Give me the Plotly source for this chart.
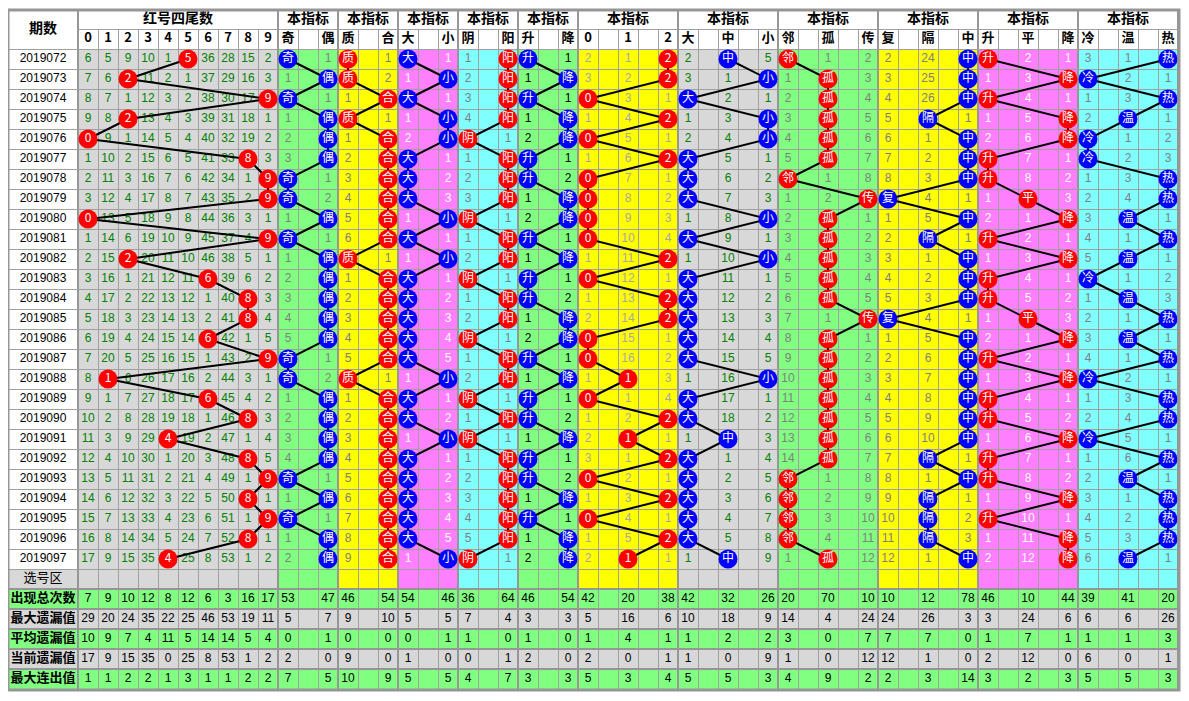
import plotly.graph_objects as go

# ---------------- data ----------------
periods = ['2019072', '2019073', '2019074', '2019075', '2019076', '2019077', '2019078',
           '2019079', '2019080', '2019081', '2019082', '2019083', '2019084', '2019085',
           '2019086', '2019087', '2019088', '2019089', '2019090', '2019091', '2019092',
           '2019093', '2019094', '2019095', '2019096', '2019097']

tail_digits = ['0', '1', '2', '3', '4', '5', '6', '7', '8', '9']
tail_hit = [5, 2, 9, 2, 0, 8, 9, 9, 0, 9, 2, 6, 8, 8, 6, 9, 1, 6, 8, 4, 8, 9, 8, 9, 8, 4]

# omission value per tail column (the hit column holds 0)
tail_miss = [
    [6, 5, 9, 10, 1, 0, 36, 28, 15, 2],
    [7, 6, 0, 11, 2, 1, 37, 29, 16, 3],
    [8, 7, 1, 12, 3, 2, 38, 30, 17, 0],
    [9, 8, 0, 13, 4, 3, 39, 31, 18, 1],
    [0, 9, 1, 14, 5, 4, 40, 32, 19, 2],
    [1, 10, 2, 15, 6, 5, 41, 33, 0, 3],
    [2, 11, 3, 16, 7, 6, 42, 34, 1, 0],
    [3, 12, 4, 17, 8, 7, 43, 35, 2, 0],
    [0, 13, 5, 18, 9, 8, 44, 36, 3, 1],
    [1, 14, 6, 19, 10, 9, 45, 37, 4, 0],
    [2, 15, 0, 20, 11, 10, 46, 38, 5, 1],
    [3, 16, 1, 21, 12, 11, 0, 39, 6, 2],
    [4, 17, 2, 22, 13, 12, 1, 40, 0, 3],
    [5, 18, 3, 23, 14, 13, 2, 41, 0, 4],
    [6, 19, 4, 24, 15, 14, 0, 42, 1, 5],
    [7, 20, 5, 25, 16, 15, 1, 43, 2, 0],
    [8, 0, 6, 26, 17, 16, 2, 44, 3, 1],
    [9, 1, 7, 27, 18, 17, 0, 45, 4, 2],
    [10, 2, 8, 28, 19, 18, 1, 46, 0, 3],
    [11, 3, 9, 29, 0, 19, 2, 47, 1, 4],
    [12, 4, 10, 30, 1, 20, 3, 48, 0, 5],
    [13, 5, 11, 31, 2, 21, 4, 49, 1, 0],
    [14, 6, 12, 32, 3, 22, 5, 50, 0, 1],
    [15, 7, 13, 33, 4, 23, 6, 51, 1, 0],
    [16, 8, 14, 34, 5, 24, 7, 52, 0, 1],
    [17, 9, 15, 35, 0, 25, 8, 53, 1, 2],
]

# indicator groups: omission per option, 0 = hit this period
odd_even = [(0, 1), (1, 0), (0, 1), (1, 0), (2, 0), (3, 0), (0, 1), (0, 2), (1, 0), (0, 1),
            (1, 0), (2, 0), (3, 0), (4, 0), (5, 0), (0, 1), (0, 2), (1, 0), (2, 0), (3, 0),
            (4, 0), (0, 1), (1, 0), (0, 1), (1, 0), (2, 0)]
prime_comp = [(0, 1), (0, 2), (1, 0), (0, 1), (1, 0), (2, 0), (3, 0), (4, 0), (5, 0), (6, 0),
              (0, 1), (1, 0), (2, 0), (3, 0), (4, 0), (5, 0), (0, 1), (1, 0), (2, 0), (3, 0),
              (4, 0), (5, 0), (6, 0), (7, 0), (8, 0), (9, 0)]
big_small = [(0, 1), (1, 0), (0, 1), (1, 0), (2, 0), (0, 1), (0, 2), (0, 3), (1, 0), (0, 1),
             (1, 0), (0, 1), (0, 2), (0, 3), (0, 4), (0, 5), (1, 0), (0, 1), (0, 2), (1, 0),
             (0, 1), (0, 2), (0, 3), (0, 4), (0, 5), (1, 0)]
yin_yang = [(1, 0), (2, 0), (3, 0), (4, 0), (0, 1), (1, 0), (2, 0), (3, 0), (0, 1), (1, 0),
            (2, 0), (0, 1), (1, 0), (2, 0), (0, 1), (1, 0), (2, 0), (0, 1), (1, 0), (0, 1),
            (1, 0), (2, 0), (3, 0), (4, 0), (5, 0), (0, 1)]
up_down = [(0, 1), (1, 0), (0, 1), (1, 0), (2, 0), (0, 1), (0, 2), (1, 0), (2, 0), (0, 1),
           (1, 0), (0, 1), (0, 2), (1, 0), (2, 0), (0, 1), (1, 0), (0, 1), (0, 2), (1, 0),
           (0, 1), (0, 2), (1, 0), (0, 1), (1, 0), (2, 0)]
mod3 = [(2, 1, 0), (3, 2, 0), (0, 3, 1), (1, 4, 0), (0, 5, 1), (1, 6, 0), (0, 7, 1), (0, 8, 2),
        (0, 9, 3), (0, 10, 4), (1, 11, 0), (0, 12, 1), (1, 13, 0), (2, 14, 0), (0, 15, 1),
        (0, 16, 2), (1, 0, 3), (0, 1, 4), (1, 2, 0), (2, 0, 1), (3, 1, 0), (0, 2, 1), (1, 3, 0),
        (0, 4, 1), (1, 5, 0), (2, 0, 1)]
big_mid_small = [(2, 0, 5), (3, 1, 0), (0, 2, 1), (1, 3, 0), (2, 4, 0), (0, 5, 1), (0, 6, 2),
                 (0, 7, 3), (1, 8, 0), (0, 9, 1), (1, 10, 0), (0, 11, 1), (0, 12, 2), (0, 13, 3),
                 (0, 14, 4), (0, 15, 5), (1, 16, 0), (0, 17, 1), (0, 18, 2), (1, 0, 3), (0, 1, 4),
                 (0, 2, 5), (0, 3, 6), (0, 4, 7), (0, 5, 8), (1, 0, 9)]
near_iso_pass = [(0, 1, 2), (1, 0, 3), (2, 0, 4), (3, 0, 5), (4, 0, 6), (5, 0, 7), (0, 1, 8),
                 (1, 2, 0), (2, 0, 1), (3, 0, 2), (4, 0, 3), (5, 0, 4), (6, 0, 5), (7, 1, 0),
                 (8, 0, 1), (9, 0, 2), (10, 0, 3), (11, 0, 4), (12, 0, 5), (13, 0, 6), (14, 0, 7),
                 (0, 1, 8), (0, 2, 9), (0, 3, 10), (0, 4, 11), (1, 0, 12)]
rep_gap_mid = [(2, 24, 0), (3, 25, 0), (4, 26, 0), (5, 0, 1), (6, 1, 0), (7, 2, 0), (8, 3, 0),
               (0, 4, 1), (1, 5, 0), (2, 0, 1), (3, 1, 0), (4, 2, 0), (5, 3, 0), (0, 4, 1),
               (1, 5, 0), (2, 6, 0), (3, 7, 0), (4, 8, 0), (5, 9, 0), (6, 10, 0), (7, 0, 1),
               (8, 1, 0), (9, 0, 1), (10, 0, 2), (11, 0, 3), (12, 1, 0)]
up_flat_down = [(0, 2, 1), (1, 3, 0), (0, 4, 1), (1, 5, 0), (2, 6, 0), (0, 7, 1), (0, 8, 2),
                (1, 0, 3), (2, 1, 0), (0, 2, 1), (1, 3, 0), (0, 4, 1), (0, 5, 2), (1, 0, 3),
                (2, 1, 0), (0, 2, 1), (1, 3, 0), (0, 4, 1), (0, 5, 2), (1, 6, 0), (0, 7, 1),
                (0, 8, 2), (1, 9, 0), (0, 10, 1), (1, 11, 0), (2, 12, 0)]
cold_warm_hot = [(3, 1, 0), (0, 2, 1), (1, 3, 0), (2, 0, 1), (0, 1, 2), (0, 2, 3), (1, 3, 0),
                 (2, 4, 0), (3, 0, 1), (4, 1, 0), (5, 0, 1), (0, 1, 2), (1, 0, 3), (2, 1, 0),
                 (3, 0, 1), (4, 1, 0), (0, 2, 1), (1, 3, 0), (2, 4, 0), (0, 5, 1), (1, 6, 0),
                 (2, 0, 1), (3, 1, 0), (4, 2, 0), (5, 3, 0), (6, 0, 1)]

stat_names = ['出现总次数', '最大遗漏值', '平均遗漏值', '当前遗漏值', '最大连出值']
stat_total = [7, 9, 10, 12, 8, 12, 6, 3, 16, 17, 53, 47, 46, 54, 54, 46, 36, 64, 46, 54,
              42, 20, 38, 42, 32, 26, 20, 70, 10, 10, 12, 78, 46, 10, 44, 39, 41, 20]
stat_max_miss = [29, 20, 24, 35, 22, 25, 46, 53, 19, 11, 5, 7, 9, 10, 5, 5, 7, 4, 3, 3,
                 5, 16, 6, 10, 18, 9, 14, 4, 24, 24, 26, 3, 3, 24, 6, 6, 6, 26]
stat_avg_miss = [10, 9, 7, 4, 11, 5, 14, 14, 5, 4, 0, 1, 0, 0, 0, 1, 1, 0, 1, 0,
                 1, 4, 1, 1, 2, 2, 3, 0, 7, 7, 7, 0, 1, 7, 1, 1, 1, 3]
stat_cur_miss = [17, 9, 15, 35, 0, 25, 8, 53, 1, 2, 2, 0, 9, 0, 1, 0, 0, 1, 2, 0,
                 2, 0, 1, 1, 0, 9, 1, 0, 12, 12, 1, 0, 2, 12, 0, 6, 0, 1]
stat_max_run = [1, 1, 2, 2, 1, 3, 1, 1, 2, 2, 7, 5, 10, 9, 5, 5, 4, 7, 3, 3,
                5, 3, 4, 5, 5, 3, 4, 9, 2, 2, 3, 14, 3, 2, 3, 5, 5, 3]

# ---------------- styling ----------------
GREEN, YELLOW, PINK, CYAN, GRAY = '#80FF80', '#FFFF00', '#FF80FF', '#80FFFF', '#D8D8D8'
RED, BLUE = '#FF0000', '#0000FF'
GRID, GRID_DARK = '#A0A0A0', '#969696'
NUM_FONT = 'Liberation Sans, Arial, sans-serif'
CJK_FONT = 'Noto Sans CJK SC, sans-serif'

groups = [
    dict(labels=['奇', '偶'], data=odd_even, bg=GREEN, ball=BLUE, txt='#808080'),
    dict(labels=['质', '合'], data=prime_comp, bg=YELLOW, ball=RED, txt='#808080'),
    dict(labels=['大', '小'], data=big_small, bg=PINK, ball=BLUE, txt='#FFFFFF'),
    dict(labels=['阴', '阳'], data=yin_yang, bg=CYAN, ball=RED, txt='#808080'),
    dict(labels=['升', '降'], data=up_down, bg=GREEN, ball=BLUE, txt='#000000'),
    dict(labels=['0', '1', '2'], data=mod3, bg=YELLOW, ball=RED, txt='#A8A8A8'),
    dict(labels=['大', '中', '小'], data=big_mid_small, bg=GRAY, ball=BLUE, txt='#008000'),
    dict(labels=['邻', '孤', '传'], data=near_iso_pass, bg=GREEN, ball=RED, txt='#808080'),
    dict(labels=['复', '隔', '中'], data=rep_gap_mid, bg=YELLOW, ball=BLUE, txt='#808080'),
    dict(labels=['升', '平', '降'], data=up_flat_down, bg=PINK, ball=RED, txt='#FFFFFF'),
    dict(labels=['冷', '温', '热'], data=cold_warm_hot, bg=CYAN, ball=BLUE, txt='#808080'),
]

# table geometry (axis units = screen pixels)
CW, RH = 20, 20
X_LEFT, X_TAIL = 8, 78
Y_TOP, Y_MID, Y_BODY = 10, 29, 49
N_ROWS = len(periods)
PAGE_MARGIN = 8          # browser body margin around the plot div
FIG_W, FIG_H = 1189 - 2 * PAGE_MARGIN, 701 - 2 * PAGE_MARGIN


def cx(col):
    return X_TAIL + col * CW + CW / 2


def cy(row):
    return Y_BODY + row * RH + RH / 2


col = 10
for g in groups:
    g['start'] = col
    col += 2 * len(g['labels']) - 1
N_COLS = col
X_RIGHT = X_TAIL + N_COLS * CW
Y_PICK = Y_BODY + N_ROWS * RH          # 选号区 row top
Y_STAT = Y_PICK + RH                    # stats rows top
Y_BOTTOM = Y_STAT + len(stat_names) * RH

shapes = []


def rect(x0, y0, x1, y1, color):
    shapes.append(dict(type='rect', x0=x0, y0=y0, x1=x1, y1=y1, layer='below',
                       line=dict(width=0), fillcolor=color))


def line(x0, y0, x1, y1, width=1, color=GRID):
    shapes.append(dict(type='line', x0=x0, y0=y0, x1=x1, y1=y1, layer='below',
                       line=dict(width=width, color=color)))


# backgrounds
rect(X_TAIL, Y_BODY, X_TAIL + 10 * CW, Y_STAT, GRAY)
rect(X_LEFT, Y_PICK, X_TAIL, Y_STAT, GRAY)
for g in groups:
    rect(X_TAIL + g['start'] * CW, Y_BODY,
         X_TAIL + (g['start'] + 2 * len(g['labels']) - 1) * CW, Y_STAT, g['bg'])
stat_colors = [GREEN, GRAY, GREEN, GRAY, GREEN]
for i, c in enumerate(stat_colors):
    rect(X_LEFT, Y_STAT + i * RH, X_RIGHT, Y_STAT + (i + 1) * RH, c)

# grid lines
group_edges = [0, 10] + [g['start'] + 2 * len(g['labels']) - 1 for g in groups]
for k in range(N_COLS + 1):
    x = X_TAIL + k * CW
    if k in group_edges:
        line(x, Y_TOP, x, Y_BOTTOM, 2, GRID_DARK)
    else:
        line(x + 0.5, Y_MID, x + 0.5, Y_BOTTOM, 1)
line(X_TAIL, Y_MID + 0.5, X_RIGHT, Y_MID + 0.5, 1)
for r in range(N_ROWS + 1):
    y = Y_BODY + r * RH
    line(X_LEFT, y + 0.5, X_RIGHT, y + 0.5, 1)
for i in range(len(stat_names)):
    y = Y_STAT + i * RH
    line(X_LEFT, y, X_RIGHT, y, 2, GRID_DARK)
shapes.append(dict(type='rect', x0=X_LEFT, y0=Y_TOP, x1=X_RIGHT + 1, y1=Y_BOTTOM + 1,
                   layer='above', line=dict(width=3, color=GRID_DARK)))

# ---------------- texts, lines, balls ----------------
texts = {}    # (color, size, family) -> xs, ys, labels


def put(x, y, s, color='#000000', size=12, family=NUM_FONT):
    key = (color, size, family)
    texts.setdefault(key, ([], [], []))
    texts[key][0].append(x)
    texts[key][1].append(y)
    texts[key][2].append(s)


balls = {RED: ([], [], []), BLUE: ([], [], [])}
paths = []

# header
put((X_LEFT + X_TAIL) / 2, (Y_TOP + Y_BODY) / 2, '<b>期数</b>', size=14, family=CJK_FONT)
put(X_TAIL + 5 * CW, (Y_TOP + Y_MID) / 2, '<b>红号四尾数</b>', size=14, family=CJK_FONT)
for k, d in enumerate(tail_digits):
    put(cx(k), (Y_MID + Y_BODY) / 2, '<b>' + d + '</b>', size=13, family=CJK_FONT)
for g in groups:
    n = 2 * len(g['labels']) - 1
    put(X_TAIL + (g['start'] + n / 2) * CW, (Y_TOP + Y_MID) / 2, '<b>本指标</b>',
        size=14, family=CJK_FONT)
    for j, lab in enumerate(g['labels']):
        put(cx(g['start'] + 2 * j), (Y_MID + Y_BODY) / 2, '<b>' + lab + '</b>',
            size=13, family=CJK_FONT)

# period column
for r, p in enumerate(periods):
    put((X_LEFT + X_TAIL) / 2, cy(r), p, size=12)
put((X_LEFT + X_TAIL) / 2, cy(N_ROWS), '选号区', size=13, family=CJK_FONT)

# tails
px, py = [], []
for r, row in enumerate(tail_miss):
    for k, v in enumerate(row):
        if k == tail_hit[r]:
            balls[RED][0].append(cx(k))
            balls[RED][1].append(cy(r))
            balls[RED][2].append(tail_digits[k])
            px.append(cx(k))
            py.append(cy(r))
        else:
            put(cx(k), cy(r), str(v), color='#008000')
paths.append((px, py))

# indicator groups
for g in groups:
    px, py = [], []
    for r, row in enumerate(g['data']):
        for j, v in enumerate(row):
            c = g['start'] + 2 * j
            if v == 0:
                balls[g['ball']][0].append(cx(c))
                balls[g['ball']][1].append(cy(r))
                balls[g['ball']][2].append(g['labels'][j])
                px.append(cx(c))
                py.append(cy(r))
            else:
                put(cx(c), cy(r), str(v), color=g['txt'])
    paths.append((px, py))

# statistics
stat_cols = list(range(10))
for g in groups:
    stat_cols += [g['start'] + 2 * j for j in range(len(g['labels']))]
stat_rows = [stat_total, stat_max_miss, stat_avg_miss, stat_cur_miss, stat_max_run]
for i, (name, vals) in enumerate(zip(stat_names, stat_rows)):
    y = cy(N_ROWS + 1 + i)
    put((X_LEFT + X_TAIL) / 2, y, '<b>' + name + '</b>', size=13, family=CJK_FONT)
    for c, v in zip(stat_cols, vals):
        put(cx(c), y, str(v), size=12, family='Liberation Sans Narrow, Liberation Sans, sans-serif')

fig = go.Figure()
for (color, size, family), (xs, ys, ss) in texts.items():
    fig.add_trace(go.Scatter(x=xs, y=ys, text=ss, mode='text', hoverinfo='skip',
                             textposition='middle center',
                             textfont=dict(color=color, size=size, family=family)))
for xs, ys in paths:
    fig.add_trace(go.Scatter(x=xs, y=ys, mode='lines', hoverinfo='skip',
                             line=dict(color='#000000', width=2)))
for color, (xs, ys, ss) in balls.items():
    fig.add_trace(go.Scatter(x=xs, y=ys, text=ss, mode='markers+text', hoverinfo='skip',
                             textposition='middle center',
                             marker=dict(size=19, color=color, line=dict(width=0)),
                             textfont=dict(color='#FFFFFF', size=12, family=CJK_FONT)))

fig.update_layout(
    width=FIG_W, height=FIG_H,
    margin=dict(l=0, r=0, t=0, b=0, pad=0),
    paper_bgcolor='white', plot_bgcolor='white',
    showlegend=False,
    shapes=shapes,
    xaxis=dict(range=[PAGE_MARGIN, PAGE_MARGIN + FIG_W], visible=False, showgrid=False,
               zeroline=False, fixedrange=True),
    yaxis=dict(range=[PAGE_MARGIN + FIG_H, PAGE_MARGIN], visible=False, showgrid=False,
               zeroline=False, fixedrange=True),
)

fig.write_html('out.html')
